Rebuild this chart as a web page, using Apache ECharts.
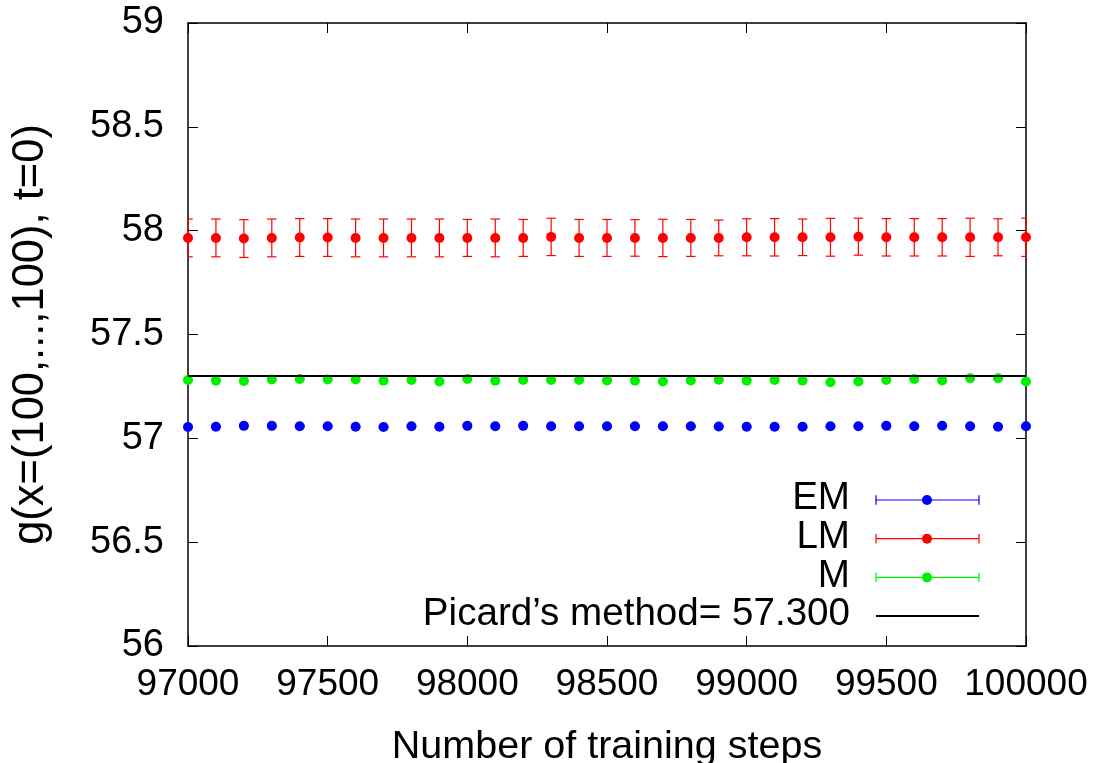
<!DOCTYPE html>
<html><head><meta charset="utf-8">
<script src="https://cdn.jsdelivr.net/npm/echarts@6/dist/echarts.min.js"></script>
<style>html,body{margin:0;padding:0;background:#fff}#c{width:1099px;height:763px}</style>
</head><body><div id="c"></div>
<script>
const steps = [97000, 97100, 97200, 97300, 97400, 97500, 97600, 97700, 97800, 97900,
  98000, 98100, 98200, 98300, 98400, 98500, 98600, 98700, 98800, 98900,
  99000, 99100, 99200, 99300, 99400, 99500, 99600, 99700, 99800, 99900, 100000];

const emValues = [57.055, 57.056, 57.060, 57.060, 57.058, 57.058, 57.056, 57.055, 57.058, 57.056,
  57.060, 57.058, 57.060, 57.058, 57.058, 57.058, 57.058, 57.058, 57.058, 57.057,
  57.056, 57.056, 57.056, 57.058, 57.058, 57.060, 57.058, 57.061, 57.058, 57.056, 57.058];
const emErrors = [0.002, 0.002, 0.002, 0.002, 0.002, 0.002, 0.002, 0.002, 0.002, 0.002,
  0.002, 0.002, 0.002, 0.002, 0.002, 0.002, 0.002, 0.002, 0.002, 0.002,
  0.002, 0.002, 0.002, 0.002, 0.002, 0.002, 0.002, 0.002, 0.002, 0.002, 0.002];

const lmValues = [57.965, 57.965, 57.962, 57.965, 57.967, 57.967, 57.965, 57.965, 57.965, 57.965,
  57.965, 57.965, 57.965, 57.970, 57.965, 57.965, 57.965, 57.965, 57.965, 57.965,
  57.968, 57.968, 57.968, 57.968, 57.971, 57.968, 57.968, 57.968, 57.968, 57.968, 57.968];
const lmErrors = [0.091, 0.091, 0.091, 0.091, 0.091, 0.091, 0.091, 0.091, 0.091, 0.091,
  0.089, 0.091, 0.089, 0.090, 0.089, 0.089, 0.088, 0.090, 0.089, 0.086,
  0.089, 0.090, 0.088, 0.091, 0.089, 0.090, 0.090, 0.090, 0.092, 0.089, 0.092];

const mValues = [57.281, 57.278, 57.276, 57.283, 57.286, 57.283, 57.283, 57.278, 57.281, 57.274,
  57.286, 57.278, 57.281, 57.281, 57.281, 57.279, 57.278, 57.274, 57.279, 57.282,
  57.278, 57.281, 57.278, 57.270, 57.274, 57.281, 57.286, 57.279, 57.289, 57.289, 57.274];
const mErrors = [0.004, 0.004, 0.004, 0.004, 0.004, 0.004, 0.004, 0.004, 0.004, 0.004,
  0.004, 0.004, 0.004, 0.004, 0.004, 0.004, 0.004, 0.004, 0.004, 0.004,
  0.004, 0.004, 0.004, 0.004, 0.004, 0.004, 0.004, 0.004, 0.004, 0.004, 0.004];

const picardValue = 57.3;
const seriesNames = ['EM', 'LM', 'M'];
const picardLabel = 'Picard\u2019s method= 57.300';
const xLabel = 'Number of training steps';
const yLabel = 'g(x=(100,...,100), t=0)';

const FONT = '"Liberation Sans", Arial, Helvetica, sans-serif';
const colors = ['#0000ff', '#ff0000', '#00f000'];

function errSeries(name, color, vals, errs) {
  return {
    name: name, type: 'custom', z: 3, clip: false,
    data: steps.map((s, i) => [s, vals[i], errs[i]]),
    encode: { x: 0, y: 1 },
    renderItem: function (params, api) {
      const cs = params.coordSys;
      const x = api.value(0), y = api.value(1), e = api.value(2);
      const c = api.coord([x, y]);
      const hi = api.coord([x, y + e]);
      const lo = api.coord([x, y - e]);
      const hw = 4.7;
      const x0 = Math.max(c[0] - hw, cs.x), x1 = Math.min(c[0] + hw, cs.x + cs.width);
      const ls = { stroke: color, lineWidth: 1.2 };
      return {
        type: 'group', children: [
          { type: 'line', shape: { x1: c[0], y1: hi[1], x2: c[0], y2: lo[1] }, style: ls },
          { type: 'line', shape: { x1: x0, y1: hi[1], x2: x1, y2: hi[1] }, style: ls },
          { type: 'line', shape: { x1: x0, y1: lo[1], x2: x1, y2: lo[1] }, style: ls },
          { type: 'circle', shape: { cx: c[0], cy: c[1], r: 5 }, style: { fill: color } }
        ]
      };
    }
  };
}

// legend drawn as graphics
const legendGraphics = [];
const rowY0 = 500, rowStep = 38.7;
const legendLabels = seriesNames.concat([picardLabel]);
legendLabels.forEach((lab, i) => {
  const y = rowY0 + i * rowStep;
  legendGraphics.push({ type: 'text', x: 850, y: y - 1.5,
    style: { text: lab, fill: '#000', fontSize: 38.6, fontFamily: FONT, align: 'right', verticalAlign: 'middle' } });
  if (i < 3) {
    const col = colors[i];
    const ls = { stroke: col, lineWidth: 1.2 };
    legendGraphics.push({ type: 'line', shape: { x1: 876, y1: y, x2: 979, y2: y }, style: ls });
    legendGraphics.push({ type: 'line', shape: { x1: 876, y1: y - 4.7, x2: 876, y2: y + 4.7 }, style: ls });
    legendGraphics.push({ type: 'line', shape: { x1: 979, y1: y - 4.7, x2: 979, y2: y + 4.7 }, style: ls });
    legendGraphics.push({ type: 'circle', shape: { cx: 927, cy: y, r: 5 }, style: { fill: col } });
  } else {
    legendGraphics.push({ type: 'line', shape: { x1: 876, y1: y, x2: 979, y2: y }, style: { stroke: '#000', lineWidth: 2 } });
  }
});

const axisLineStyle = { show: true, onZero: false, lineStyle: { color: '#000', width: 1.5 } };
const tickStyle = { show: true, inside: true, length: 10, lineStyle: { color: '#000', width: 1 } };

const option = {
  backgroundColor: '#fff',
  animation: false,
  grid: { left: 188, right: 73, top: 23, bottom: 117, show: false, containLabel: false, outerBoundsMode: 'none' },
  xAxis: [
    { type: 'value', position: 'bottom', min: 97000, max: 100000, interval: 500,
      axisLine: axisLineStyle, axisTick: tickStyle, splitLine: { show: false },
      axisLabel: { color: '#000', fontSize: 37, fontFamily: FONT, margin: 20, formatter: v => String(v) },
      name: xLabel, nameLocation: 'middle', nameGap: 81,
      nameTextStyle: { color: '#000', fontSize: 39.5, fontFamily: FONT } },
    { type: 'value', position: 'top', min: 97000, max: 100000, interval: 500,
      axisLine: axisLineStyle, axisTick: tickStyle, splitLine: { show: false },
      axisLabel: { show: false } }
  ],
  yAxis: [
    { type: 'value', position: 'left', min: 56, max: 59, interval: 0.5,
      axisLine: axisLineStyle, axisTick: tickStyle, splitLine: { show: false },
      axisLabel: { color: '#000', fontSize: 38, fontFamily: FONT, margin: 24 },
      name: yLabel, nameLocation: 'middle', nameGap: 135, nameRotate: 90,
      nameTextStyle: { color: '#000', fontSize: 43.5, fontFamily: FONT } },
    { type: 'value', position: 'right', min: 56, max: 59, interval: 0.5,
      axisLine: axisLineStyle, axisTick: tickStyle, splitLine: { show: false },
      axisLabel: { show: false } }
  ],
  series: [
    errSeries(seriesNames[0], colors[0], emValues, emErrors),
    errSeries(seriesNames[1], colors[1], lmValues, lmErrors),
    errSeries(seriesNames[2], colors[2], mValues, mErrors),
    { name: picardLabel, type: 'line', z: 4, symbol: 'none', silent: true,
      data: [[steps[0], picardValue], [steps[steps.length - 1], picardValue]],
      lineStyle: { color: '#000', width: 2 } }
  ],
  graphic: legendGraphics
};

const chart = echarts.init(document.getElementById('c'), null, { renderer: 'canvas' });
chart.setOption(option);
</script>
</body></html>
